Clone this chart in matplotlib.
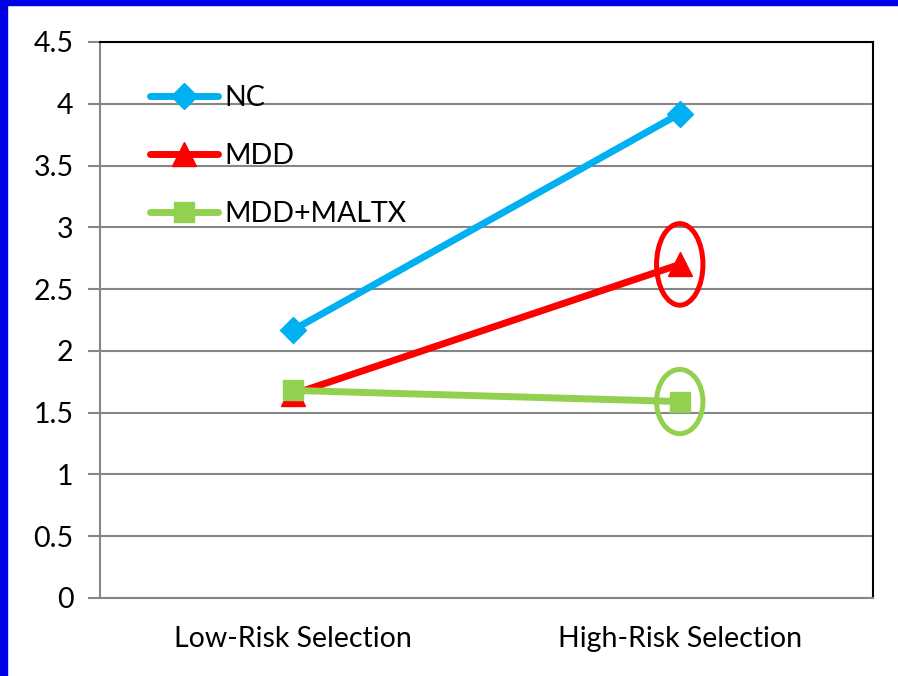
import matplotlib
matplotlib.use("Agg")
import matplotlib.pyplot as plt
from matplotlib.patches import Ellipse, Rectangle

categories = ["Low-Risk Selection", "High-Risk Selection"]
nc = [2.17, 3.92]
mdd = [1.65, 2.70]
mdd_maltx = [1.68, 1.59]
yticks = [0, 0.5, 1, 1.5, 2, 2.5, 3, 3.5, 4, 4.5]
ytick_labels = ["0", "0.5", "1", "1.5", "2", "2.5", "3", "3.5", "4", "4.5"]

plt.rcParams['font.family'] = ['Lato', 'DejaVu Sans']

W, H = 898, 676
fig = plt.figure(figsize=(W / 100, H / 100), dpi=100)
fig.patch.set_facecolor("white")

# blue slide border on left and top
fig.add_artist(Rectangle((0, 0), 7 / W, 1, transform=fig.transFigure,
                         color="#0000E6", zorder=0))
fig.add_artist(Rectangle((0, 1 - 5 / H), 1, 5 / H, transform=fig.transFigure,
                         color="#0000E6", zorder=0))

ax = fig.add_axes([100 / W, (H - 598) / H, 773 / W, 556 / H])
x = list(range(len(categories)))

ax.set_ylim(0, 4.5)
ax.set_xlim(-0.5, 1.5)
ax.set_yticks(yticks)
ax.set_yticklabels(ytick_labels, fontsize=20.5)
ax.set_xticks(x)
ax.set_xticklabels(categories, fontsize=20.5)
ax.tick_params(axis="y", length=9, width=1.5, color="#868686", pad=10)
ax.tick_params(axis="x", length=0, pad=20)
ax.yaxis.grid(True, color="#868686", linewidth=1.5)
ax.set_axisbelow(True)

for side in ["left", "bottom"]:
    ax.spines[side].set_color("#868686")
    ax.spines[side].set_linewidth(1.5)
for side in ["top", "right"]:
    ax.spines[side].set_color("black")
    ax.spines[side].set_linewidth(1.5)

ax.plot(x, nc, color="#00B0F0", lw=5, marker="D", markersize=13,
        label="NC", solid_capstyle="round", zorder=3)
ax.plot(x, mdd, color="#FF0000", lw=5, marker="^", markersize=17,
        label="MDD", solid_capstyle="round", zorder=4)
ax.plot(x, mdd_maltx, color="#92D050", lw=5, marker="s", markersize=15,
        label="MDD+MALTX", solid_capstyle="round", zorder=5)

# highlight rings around the high-risk MDD groups
ax.add_patch(Ellipse((x[1], mdd[1]), width=0.12, height=0.66, fill=False,
                     edgecolor="#FF0000", lw=3.6, zorder=6))
ax.add_patch(Ellipse((x[1], mdd_maltx[1]), width=0.12, height=0.52, fill=False,
                     edgecolor="#92D050", lw=3.6, zorder=6))

leg = ax.legend(loc="upper left", bbox_to_anchor=(50 / 773, 1 - 43 / 556),
                frameon=False, fontsize=20.5, handlelength=2.4,
                handletextpad=0.2, labelspacing=1.13, borderpad=0,
                borderaxespad=0)

fig.savefig("out.png", dpi=100)
